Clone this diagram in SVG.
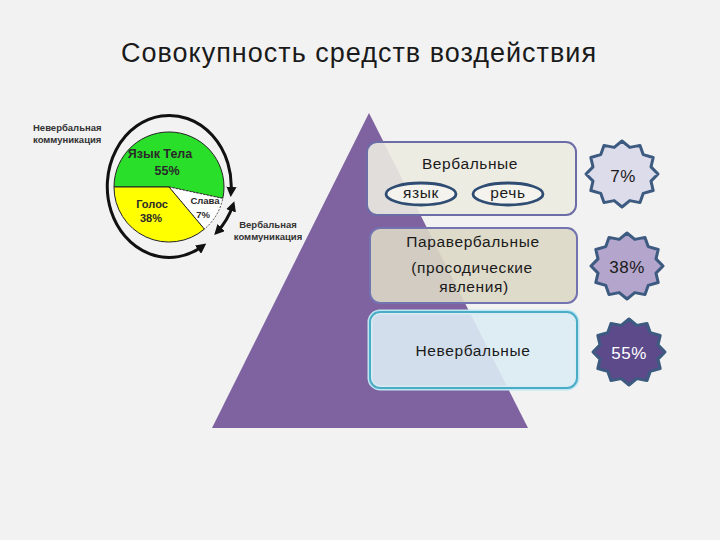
<svg xmlns="http://www.w3.org/2000/svg" width="720" height="540" viewBox="0 0 720 540">
<style>
.title{font-family:"Liberation Sans",Arial,sans-serif;font-size:27px;fill:#1a1a1a}
.bt{font-family:"Liberation Sans",Arial,sans-serif;font-size:15.5px;fill:#1a1a1a;text-anchor:middle;letter-spacing:0.6px}
.st{font-family:"Liberation Sans",Arial,sans-serif;font-size:17px;text-anchor:middle;letter-spacing:0.5px}
.pl{font-family:"Liberation Sans",Arial,sans-serif;font-weight:bold;fill:#2a2a2a;text-anchor:middle}
.lab{font-family:"Liberation Sans",Arial,sans-serif;font-weight:bold;font-size:9.5px;fill:#333}
.star{stroke:#3d5a80;stroke-width:3;stroke-linejoin:round}
.arc{fill:none;stroke:#111;stroke-width:3;marker-start:url(#ah);marker-end:url(#ah)}
.ell{fill:#f4f3ee;stroke:#2f4d72;stroke-width:2.8}
</style>
<defs>
<marker id="ah" viewBox="0 0 10 10" refX="6" refY="5" markerWidth="3.4" markerHeight="3.4" orient="auto-start-reverse">
<path d="M0,0 L10,5 L0,10 Z" fill="#111"/>
</marker>
<polygon id="starShape" points="0,-33 7.8,-26.6 18,-28.6 21.2,-19.4 31.2,-16.5 29,-7.1 36,0 29,7.1 31.2,16.5 21.2,19.4 18,28.6 7.8,26.6 0,33 -7.8,26.6 -18,28.6 -21.2,19.4 -31.2,16.5 -29,7.1 -36,0 -29,-7.1 -31.2,-16.5 -21.2,-19.4 -18,-28.6 -7.8,-26.6"/>
</defs>
<rect width="720" height="540" fill="#f2f2f2"/>
<text class="title" x="121" y="62" textLength="475">Совокупность средств воздействия</text>

<g id="pie">
<path d="M169,187 L114,187 A55,55 0 1 1 222.8,198.4 Z" fill="#2adf2a" stroke="#222" stroke-width="1"/>
<path d="M169,187 L222.8,198.4 A55,55 0 0 1 204.4,229.1 Z" fill="#ffffff" stroke="#222" stroke-width="0.8" stroke-dasharray="2,1.5"/>
<path d="M169,187 L204.4,229.1 A55,55 0 0 1 114,187 Z" fill="#ffff00" stroke="#222" stroke-width="1"/>
<text class="pl" x="160" y="158" font-size="12.5">Язык Тела</text>
<text class="pl" x="167" y="175" font-size="12.5">55%</text>
<text class="pl" x="152" y="208" font-size="11">Голос</text>
<text class="pl" x="151" y="222" font-size="11">38%</text>
<text class="pl" x="205" y="204" font-size="9.5">Слава</text>
<text class="pl" x="203" y="218" font-size="9.5">7%</text>
</g>

<g id="pie-labels">
<text class="lab" x="33" y="131">Невербальная</text>
<text class="lab" x="33" y="143">коммуникация</text>
<text class="lab" x="268" y="228" text-anchor="middle">Вербальная</text>
<text class="lab" x="268" y="240" text-anchor="middle">коммуникация</text>
</g>

<g id="connectors">
<path class="arc" d="M203,246 A62,71 0 1 1 231,193"/>
<path class="arc" d="M233,205 A64,72 0 0 1 217,232"/>
</g>

<g id="pyramid">
<polygon points="369,113 528,428 212,428" fill="#7f62a0"/>
</g>

<g id="box-verbal">
<rect x="367" y="142" width="209" height="73" rx="10" fill="#ecebe1" fill-opacity="0.9" stroke="#6c6ca6" stroke-width="2"/>
<text class="bt" x="470" y="169">Вербальные</text>
<ellipse class="ell" cx="421" cy="194" rx="35" ry="11"/>
<text class="bt" x="421" y="198" font-size="13.5" letter-spacing="0.3">язык</text>
<ellipse class="ell" cx="508" cy="194" rx="35" ry="11"/>
<text class="bt" x="508" y="198" font-size="13.5" letter-spacing="0.3">речь</text>
</g>

<g id="box-paraverbal">
<rect x="370" y="228" width="207" height="75" rx="10" fill="#dcd8c5" fill-opacity="0.9" stroke="#7373b0" stroke-width="2"/>
<text class="bt" x="473" y="247">Паравербальные</text>
<text class="bt" x="472" y="273">(просодические</text>
<text class="bt" x="474" y="292">явления)</text>
</g>

<g id="box-nonverbal">
<rect x="370" y="312" width="207" height="76" rx="10" fill="none" stroke="#bfe6f2" stroke-width="5"/>
<rect x="370" y="312" width="207" height="76" rx="10" fill="#dcecf3" fill-opacity="0.9" stroke="#4bacc6" stroke-width="2"/>
<text class="bt" x="473" y="356">Невербальные</text>
</g>

<g id="star-7">
<use href="#starShape" x="622" y="174" class="star" fill="#dddcea"/>
<text class="st" x="623" y="182" fill="#1a1a1a">7%</text>
</g>
<g id="star-38">
<use href="#starShape" x="627" y="266" class="star" fill="#b3a5cb"/>
<text class="st" x="627" y="273" fill="#1a1a1a">38%</text>
</g>
<g id="star-55">
<use href="#starShape" x="629" y="352" class="star" fill="#5d4a8a" stroke="#4d6590"/>
<text class="st" x="629" y="359" fill="#ffffff">55%</text>
</g>
</svg>
